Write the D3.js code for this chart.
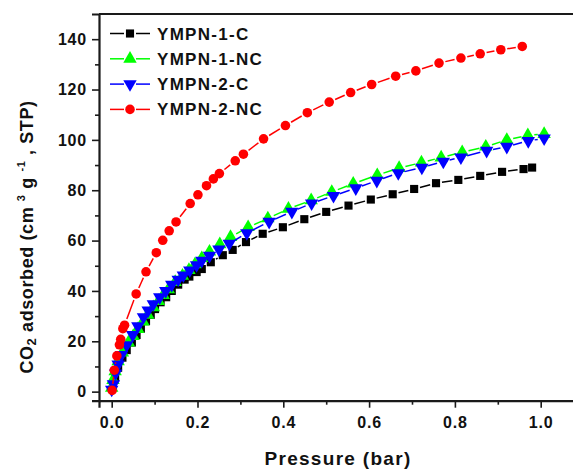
<!DOCTYPE html>
<html>
<head>
<meta charset="utf-8">
<script src="https://cdn.jsdelivr.net/npm/d3@7"></script>
<style>
  body { margin: 0; background: #fff; }
  svg { display: block; font-family: "Liberation Sans", Arial, sans-serif; font-weight: bold; }
</style>
</head>
<body>
<div id="container"></div>
<script>
// pressure (bar), uptake (cm3/g STP)
const ympn1C = [
  [0.003, 2], [0.008, 5.7], [0.015, 9.5], [0.025, 13.5], [0.035, 16.5], [0.047, 19.5],
  [0.058, 22.5], [0.068, 25], [0.080, 28], [0.091, 30.5], [0.101, 32.8], [0.114, 35.5],
  [0.127, 37.5], [0.140, 40], [0.155, 42.5], [0.170, 44.5], [0.181, 45.7], [0.198, 47.5],
  [0.210, 48.7], [0.231, 51.4], [0.259, 54.2], [0.282, 56.3], [0.313, 59.4], [0.352, 62.7],
  [0.399, 65.3], [0.449, 68.5], [0.500, 71.4], [0.552, 73.9], [0.604, 76.3], [0.655, 78.4],
  [0.705, 80.5], [0.756, 82.8], [0.808, 84.1], [0.859, 85.7], [0.910, 87.3], [0.960, 88.4],
  [0.980, 89.0]
];
const ympn1NC = [
  [0.000, 1.5], [0.003, 4.6], [0.008, 8], [0.015, 12], [0.025, 15.5], [0.039, 19.5],
  [0.050, 22], [0.061, 24.8], [0.073, 27.8], [0.084, 30.5], [0.097, 33.5], [0.109, 36],
  [0.120, 38.3], [0.132, 40.6], [0.148, 43.5], [0.165, 46], [0.180, 48.3], [0.194, 50.5],
  [0.210, 53], [0.228, 55.6], [0.252, 58.5], [0.277, 61.4], [0.318, 65.3], [0.364, 68.8],
  [0.412, 72.6], [0.465, 76], [0.513, 79.3], [0.563, 82.6], [0.619, 86], [0.670, 88.8],
  [0.722, 91], [0.768, 93], [0.817, 95.1], [0.872, 97.3], [0.921, 100], [0.970, 101.8],
  [1.008, 102.3]
];
const ympn2C = [
  [0.000, 0.8], [0.004, 3], [0.009, 7.3], [0.015, 10.8], [0.023, 14.6], [0.035, 18.5],
  [0.049, 22.5], [0.061, 26], [0.074, 29.6], [0.085, 32.3], [0.097, 34.8], [0.112, 37.5],
  [0.126, 40], [0.140, 42.5], [0.155, 44.5], [0.167, 46.2], [0.182, 48.2], [0.198, 50.3],
  [0.210, 52], [0.228, 54], [0.250, 56.5], [0.274, 58.8], [0.315, 63], [0.367, 67.5],
  [0.420, 71.5], [0.466, 74.8], [0.517, 77.8], [0.569, 80.8], [0.618, 83.8], [0.668, 86.8],
  [0.723, 89], [0.773, 91.4], [0.814, 93.1], [0.874, 95.7], [0.921, 97.3], [0.971, 99.6],
  [1.008, 100.6]
];
const ympn2NC = [
  [0.001, 0.5], [0.006, 8.5], [0.012, 14.2], [0.018, 18.6], [0.021, 20.8], [0.026, 25],
  [0.030, 26.4], [0.057, 38.8], [0.080, 47.6], [0.104, 55.2], [0.119, 60.1], [0.134, 63.9],
  [0.150, 67.4], [0.183, 74.7], [0.201, 78.2], [0.221, 81.8], [0.237, 84.5], [0.251, 86.6],
  [0.288, 91.7], [0.307, 94.3], [0.354, 100.4], [0.405, 105.7], [0.456, 110.8], [0.507, 115],
  [0.557, 118.8], [0.606, 122], [0.662, 125.3], [0.709, 127.4], [0.763, 130.5], [0.814, 132.5],
  [0.859, 134.2], [0.907, 135.8], [0.957, 137.1]
];

const seriesNames = ["YMPN-1-C", "YMPN-1-NC", "YMPN-2-C", "YMPN-2-NC"];
const xTicks = [0, 0.2, 0.4, 0.6, 0.8, 1.0];
const xMinor = [0.1, 0.3, 0.5, 0.7, 0.9];
const yTicks = [0, 20, 40, 60, 80, 100, 120, 140];
const yMinor = [10, 30, 50, 70, 90, 110, 130];

const width = 573, height = 471;

const series = [
  { name: seriesNames[0], data: ympn1C, color: "#000000", symbol: d3.symbolSquare, size: 66, rot: 0, gap: 6 },
  { name: seriesNames[1], data: ympn1NC, color: "#00ff00", symbol: d3.symbolTriangle, size: 78, rot: 0, gap: 6.5 },
  { name: seriesNames[2], data: ympn2C, color: "#0000ff", symbol: d3.symbolTriangle, size: 78, rot: 180, gap: 6.5 },
  { name: seriesNames[3], data: ympn2NC, color: "#ff0000", symbol: d3.symbolCircle, size: 72, rot: 0, gap: 6.5 }
];

const svg = d3.select("#container").append("svg")
  .attr("width", width).attr("height", height);

svg.append("rect").attr("width", width).attr("height", height).attr("fill", "white");

const x = d3.scaleLinear().domain([-0.0296, 1.1]).range([99, 99 + 429 * 1.1296]);
const y = d3.scaleLinear().domain([-3.6, 150]).range([400.7, 14]);

// segments with a small gap around every symbol (Origin style)
function gappedSegments(pts, gap) {
  const out = [];
  for (let i = 1; i < pts.length; i++) {
    const x1 = x(pts[i - 1][0]), y1 = y(pts[i - 1][1]);
    const x2 = x(pts[i][0]), y2 = y(pts[i][1]);
    const d = Math.hypot(x2 - x1, y2 - y1);
    if (d <= 2 * gap + 1) continue;
    const ux = (x2 - x1) / d, uy = (y2 - y1) / d;
    out.push([x1 + ux * gap, y1 + uy * gap, x2 - ux * gap, y2 - uy * gap]);
  }
  return out;
}

const plot = svg.append("g");
series.forEach(s => {
  const g = plot.append("g");
  g.selectAll("line").data(gappedSegments(s.data, s.gap)).join("line")
    .attr("x1", d => d[0]).attr("y1", d => d[1])
    .attr("x2", d => d[2]).attr("y2", d => d[3])
    .attr("stroke", s.color).attr("stroke-width", 1.5);
  g.selectAll("path").data(s.data).join("path")
    .attr("d", d3.symbol().type(s.symbol).size(s.size))
    .attr("transform", d => `translate(${x(d[0])},${y(d[1])}) rotate(${s.rot})`)
    .attr("fill", s.color);
});

// axes
const axisColor = "#1a1a1a";
svg.append("g").attr("transform", `translate(0,${y(-3.6)})`)
  .call(d3.axisBottom(x).tickValues(xTicks).tickSize(7).tickPadding(9).tickFormat(d3.format(".1f")));
svg.append("g").attr("transform", `translate(0,${y(-3.6)})`)
  .call(d3.axisBottom(x).tickValues(xMinor).tickSize(4).tickFormat(""))
  .select(".domain").remove();
svg.append("g").attr("transform", `translate(${x(-0.0296)},0)`)
  .call(d3.axisLeft(y).tickValues(yTicks).tickSize(7).tickPadding(5));
svg.append("g").attr("transform", `translate(${x(-0.0296)},0)`)
  .call(d3.axisLeft(y).tickValues(yMinor).tickSize(4).tickFormat(""))
  .select(".domain").remove();

svg.selectAll(".tick line").attr("stroke", axisColor).attr("stroke-width", 1.6);
svg.selectAll(".domain").attr("stroke", axisColor).attr("stroke-width", 2.2);
svg.selectAll(".tick text")
  .attr("fill", "#111").style("font-size", "16px").style("font-weight", "bold")
  .style("font-family", '"Liberation Sans", Arial, sans-serif').style("letter-spacing", "0.8px");

// top spine
svg.append("line")
  .attr("x1", x(-0.0296)).attr("x2", x(1.1)).attr("y1", y(150)).attr("y2", y(150))
  .attr("stroke", axisColor).attr("stroke-width", 2.2);

// axis titles
svg.append("text")
  .attr("x", 338).attr("y", 465).attr("text-anchor", "middle")
  .style("font-size", "19px").style("letter-spacing", "1.3px").attr("fill", "#111")
  .text("Pressure (bar)");

const yt = svg.append("text")
  .attr("transform", "translate(33,237) rotate(-90)").attr("text-anchor", "middle")
  .style("font-size", "18px").style("letter-spacing", "0.6px").attr("fill", "#111");
yt.append("tspan").text("CO");
yt.append("tspan").attr("dy", 3).style("font-size", "13px").text("2");
yt.append("tspan").attr("dy", -3).text(" adsorbed (cm ");
yt.append("tspan").attr("dy", -8).style("font-size", "11px").text("3");
yt.append("tspan").attr("dy", 8).text(" g ");
yt.append("tspan").attr("dy", -8).style("font-size", "11px").text("-1");
yt.append("tspan").attr("dy", 8).text(" , STP)");

// legend
const legend = svg.append("g");
series.forEach((s, i) => {
  const ly = 33.5 + i * 25.3;
  const row = legend.append("g").attr("transform", `translate(0,${ly})`);
  row.append("line").attr("x1", 110).attr("x2", 124).attr("stroke", s.color).attr("stroke-width", 1.5);
  row.append("line").attr("x1", 136).attr("x2", 150).attr("stroke", s.color).attr("stroke-width", 1.5);
  row.append("path")
    .attr("d", d3.symbol().type(s.symbol).size(s.size))
    .attr("transform", `translate(130,0) rotate(${s.rot})`)
    .attr("fill", s.color);
  row.append("text").attr("x", 157).attr("y", 6)
    .style("font-size", "17px").style("letter-spacing", "1.3px").attr("fill", "#111")
    .text(s.name);
});
</script>
</body>
</html>
